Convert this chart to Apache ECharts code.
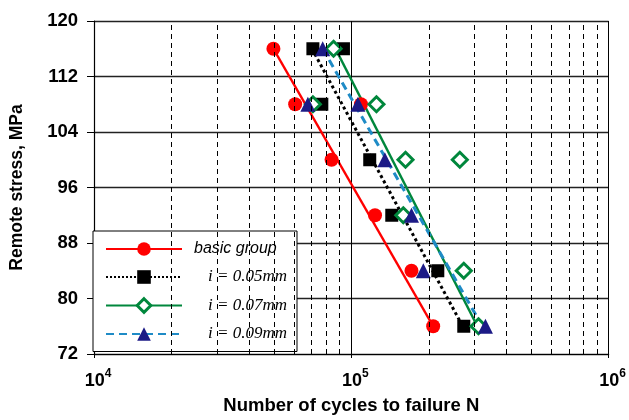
<!DOCTYPE html>
<html>
<head>
<meta charset="utf-8">
<script src="https://cdn.jsdelivr.net/npm/echarts@6/dist/echarts.min.js"></script>
<style>
  html, body { margin: 0; padding: 0; background: #fff; }
  #chart { width: 629px; height: 420px; }
</style>
</head>
<body>
<div id="chart"></div>
<script>
// Fatigue test results: remote stress (MPa) vs. cycles to failure N
const groupNames = ['basic group', 'i = 0.05mm', 'i = 0.07mm', 'i = 0.09mm'];

// measured points (cycles, stress)
const basicN = [49800, 60500, 109000, 83800, 123600, 171300, 208000];
const basicS = [116, 108, 108, 100, 92, 84, 76];

const i005N = [70900, 93200, 76800, 117900, 143600, 216800, 273500];
const i005S = [116, 116, 108, 100, 92, 84, 76];

const i007N = [85300, 70900, 125200, 162400, 264000, 159200, 273500, 312000];
const i007S = [116, 108, 108, 100, 100, 92, 84, 76];

const i009N = [77400, 67800, 106100, 135000, 171300, 190400, 332000];
const i009S = [116, 108, 108, 100, 92, 84, 76];

// regression lines (end points)
const fitS = [116, 76];
const basicFitN = [49800, 208000];
const i005FitN = [70300, 271000];
const i007FitN = [86800, 309000];
const i009FitN = [77400, 323000];

// dashed minor grid lines of the log axis
const minorN = [2e4, 3e4, 4e4, 5e4, 6e4, 7e4, 8e4, 9e4, 2e5, 3e5, 4e5, 5e5, 6e5, 7e5, 8e5, 9e5];

const stressMin = 72, stressMax = 120, stressStep = 8;
const cycMin = 1e4, cycMax = 1e6;

const zip = (a, b) => a.map((v, k) => [v, b[k]]);

const RED = '#ff0000', BLACK = '#000000', GREEN = '#00873c', NAVY = '#1c1a86', BLUE = '#1f8bc6';

const styles = [
  { symbol: 'circle', color: RED, fill: RED, border: 0, line: { color: RED, width: 2.5, type: 'solid' }, size: 14 },
  { symbol: 'rect', color: BLACK, fill: BLACK, border: 0, line: { color: BLACK, width: 3, type: 'dotted' }, size: 13 },
  { symbol: 'diamond', color: GREEN, fill: '#ffffff', border: 3, line: { color: GREEN, width: 2.5, type: 'solid' }, size: 15 },
  { symbol: 'triangle', color: NAVY, fill: NAVY, border: 0, line: { color: BLUE, width: 3, type: [8, 5] }, size: 15 }
];
const pts = [zip(basicN, basicS), zip(i005N, i005S), zip(i007N, i007S), zip(i009N, i009S)];
const fits = [zip(basicFitN, fitS), zip(i005FitN, fitS), zip(i007FitN, fitS), zip(i009FitN, fitS)];

const series = [];
// fit lines first (they also provide the legend icons)
groupNames.forEach((name, k) => {
  const st = styles[k];
  series.push({
    name: name,
    type: 'line',
    data: fits[k],
    symbol: st.symbol,
    symbolSize: st.size,
    showSymbol: false,
    silent: true,
    z: 2,
    lineStyle: { color: st.line.color, width: st.line.width, type: st.line.type },
    itemStyle: { color: st.fill, borderColor: st.color, borderWidth: st.border },
    markLine: k === 0 ? {
      silent: true,
      symbol: 'none',
      label: { show: false },
      lineStyle: { color: '#000', width: 1, type: [5, 4] },
      data: minorN.map(v => ({ xAxis: v }))
    } : undefined
  });
});
// measured points
groupNames.forEach((name, k) => {
  const st = styles[k];
  series.push({
    name: name,
    type: 'scatter',
    data: pts[k],
    symbol: st.symbol,
    symbolSize: st.size,
    z: 3,
    itemStyle: { color: st.fill, borderColor: st.color, borderWidth: st.border, opacity: 1 }
  });
});

const chart = echarts.init(document.getElementById('chart'), null, { renderer: 'canvas' });
chart.setOption({
  animation: false,
  backgroundColor: '#ffffff',
  grid: { left: 93, right: 14, top: 21, bottom: 64, containLabel: false },
  xAxis: {
    type: 'log',
    logBase: 10,
    min: cycMin,
    max: cycMax,
    name: 'Number of cycles to failure N',
    nameLocation: 'middle',
    nameGap: 42,
    nameTextStyle: { fontFamily: 'Liberation Sans', fontWeight: 'bold', fontSize: 18.5, color: '#000' },
    axisLine: { show: true, lineStyle: { color: '#000', width: 1.2 } },
    axisTick: { show: true, length: 4, lineStyle: { color: '#000' } },
    splitLine: { show: true, lineStyle: { color: '#000', width: 1 } },
    axisLabel: {
      margin: 14,
      formatter: v => '{b|10}{s|' + Math.round(Math.log10(v)) + '}',
      rich: {
        b: { fontFamily: 'Liberation Sans', fontWeight: 'bold', fontSize: 18, color: '#000', padding: [0, 0, 0, 8] },
        s: { fontFamily: 'Liberation Sans', fontWeight: 'bold', fontSize: 12, color: '#000', verticalAlign: 'top', padding: [0, 0, 14, 0] }
      }
    }
  },
  yAxis: {
    type: 'value',
    min: stressMin,
    max: stressMax,
    interval: stressStep,
    name: 'Remote stress, MPa',
    nameLocation: 'middle',
    nameGap: 68,
    nameTextStyle: { fontFamily: 'Liberation Sans', fontWeight: 'bold', fontSize: 17.5, color: '#000' },
    axisLine: { show: true, lineStyle: { color: '#000', width: 1.2 } },
    axisTick: { show: true, length: 7, lineStyle: { color: '#000' } },
    splitLine: { show: true, lineStyle: { color: '#222', width: 1.3 } },
    axisLabel: { margin: 16, fontFamily: 'Liberation Sans', fontWeight: 'bold', fontSize: 18.5, color: '#000' }
  },
  legend: {
    show: true,
    orient: 'vertical',
    left: 93,
    top: 231,
    padding: [10, 10, 9, 12],
    itemWidth: 76,
    itemHeight: 17,
    itemGap: 11.5,
    backgroundColor: '#ffffff',
    borderColor: '#000',
    borderWidth: 1,
    borderRadius: 0,
    selectedMode: false,
    data: groupNames.map((name, k) => ({
      name: name,
      itemStyle: { color: styles[k].fill, borderColor: styles[k].color, borderWidth: styles[k].border }
    })),
    formatter: name => name === 'basic group' ? '{a|' + name + '}' : '{b|' + name + '}',
    textStyle: {
      rich: {
        a: { fontFamily: 'Liberation Sans', fontStyle: 'italic', fontSize: 16, color: '#000', width: 100, align: 'left', padding: [0, 0, 0, 7] },
        b: { fontFamily: 'Liberation Serif', fontStyle: 'italic', fontSize: 17, color: '#000', width: 100, align: 'right', padding: [0, 2, 0, 0] }
      }
    }
  },
  series: series
});
</script>
</body>
</html>
